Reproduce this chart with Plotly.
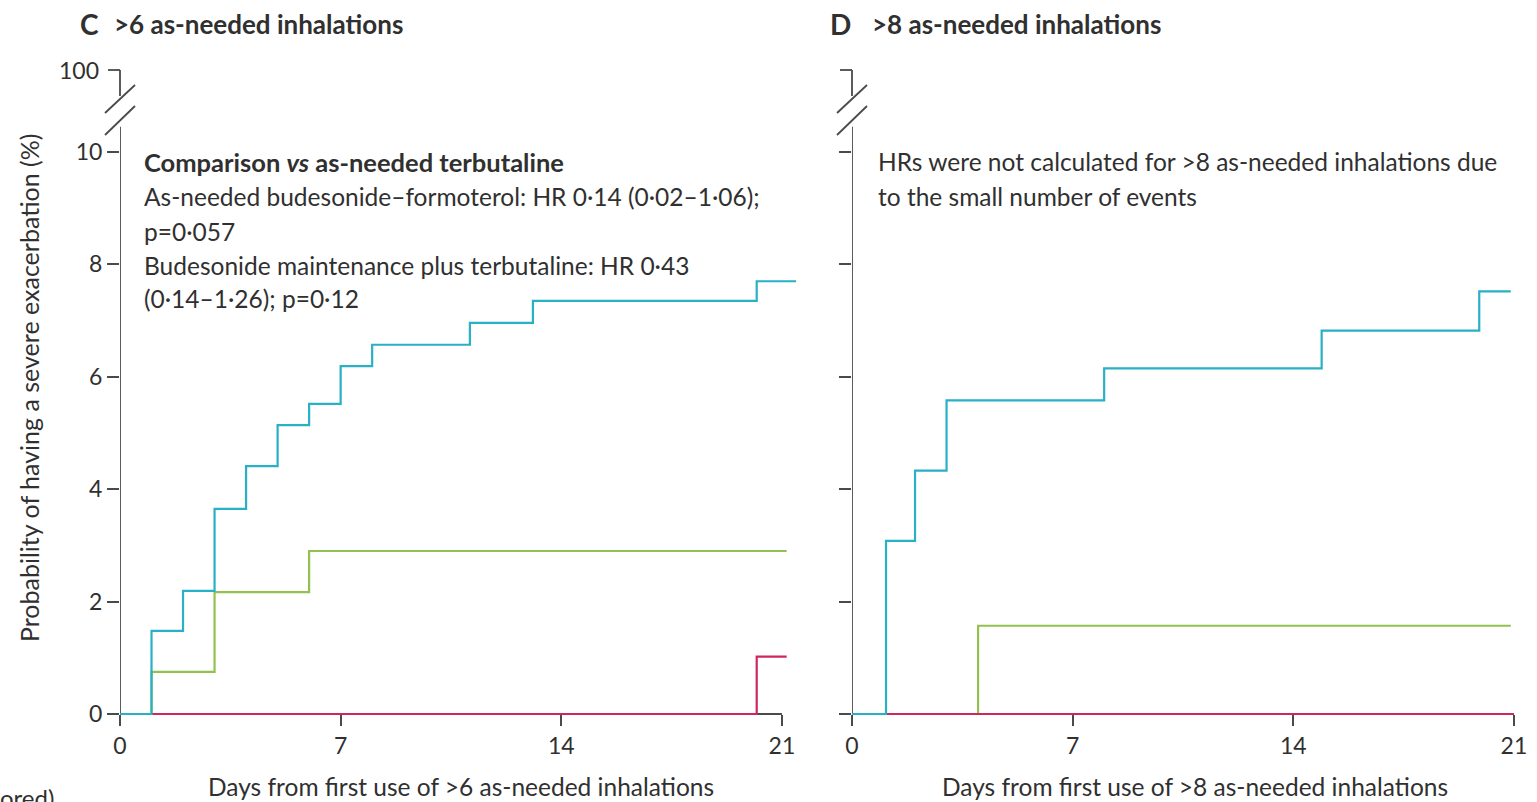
import plotly.graph_objects as go

# ---- data: Kaplan-Meier style cumulative probability (%) of severe exacerbation ----
days_c_budform = [0, 1, 2, 3, 4, 5, 6, 7, 8, 11.1, 13.1, 20.2, 21.45]
prob_c_budform = [0, 1.48, 2.19, 3.65, 4.41, 5.14, 5.52, 6.19, 6.57, 6.96, 7.35, 7.70, 7.70]
days_c_budmaint = [0, 1, 3, 6, 21.15]
prob_c_budmaint = [0, 0.75, 2.17, 2.90, 2.90]
days_c_terb = [0, 20.2, 21.15]
prob_c_terb = [0, 1.02, 1.02]

days_d_budform = [0, 1.08, 2, 3, 8, 14.9, 19.9, 20.9]
prob_d_budform = [0, 3.08, 4.33, 5.58, 6.15, 6.82, 7.52, 7.52]
days_d_budmaint = [0, 4, 20.9]
prob_d_budmaint = [0, 1.57, 1.57]
days_d_terb = [0, 21]
prob_d_terb = [0, 0]

x_ticks = [0, 7, 14, 21]
y_ticks = [0, 2, 4, 6, 8, 10]

W, H = 1537, 802
BLUE = "#28b0c6"
GREEN = "#93c150"
RED = "#d0265c"
AXIS = "#4a4a4a"
TXT = "#303030"
FONT = "Lato"

PX_PER_DAY = 31.52
PX_PER_UNIT = 56.2
Y0_PX = 714          # pixel row of probability 0
X_RANGE = [0, 21.6]
Y_RANGE = [-0.2, 11]  # a little room below 0 so the zero-level curves are not clipped


def px(x):
    return x / W


def py(y):
    return 1 - y / H


def xdomain(x0_px):
    return [px(x0_px), min(1.0, px(x0_px + X_RANGE[1] * PX_PER_DAY))]


ydom = [py(Y0_PX - Y_RANGE[0] * PX_PER_UNIT), py(Y0_PX - Y_RANGE[1] * PX_PER_UNIT)]

fig = go.Figure()

panels = [
    ("x", "y", days_c_terb, prob_c_terb, days_c_budmaint, prob_c_budmaint, days_c_budform, prob_c_budform),
    ("x2", "y2", days_d_terb, prob_d_terb, days_d_budmaint, prob_d_budmaint, days_d_budform, prob_d_budform),
]
for xa, ya, dt, pt, dm, pm, dfm, pfm in panels:
    # drawing order: maintenance, terbutaline, then budesonide-formoterol on top
    for d, p, c in [(dm, pm, GREEN), (dt, pt, RED), (dfm, pfm, BLUE)]:
        fig.add_trace(go.Scatter(x=d, y=p, mode="lines", line=dict(color=c, width=2.2, shape="hv"),
                                 xaxis=xa, yaxis=ya, showlegend=False, hoverinfo="skip"))

axis_common = dict(showgrid=False, zeroline=False, showline=False, ticks="outside",
                   tickcolor=AXIS, tickwidth=1.6, tickfont=dict(family=FONT, size=23, color=TXT))

left_x0, right_x0 = 120, 852
fig.update_layout(
    width=W, height=H, margin=dict(l=0, r=0, t=0, b=0, autoexpand=False),
    paper_bgcolor="white", plot_bgcolor="white",
    xaxis=dict(domain=xdomain(left_x0), range=X_RANGE, tickvals=x_ticks, ticklen=11,
               anchor="free", position=py(Y0_PX), **axis_common),
    yaxis=dict(domain=ydom, range=Y_RANGE, tickvals=y_ticks, ticklen=12, anchor="x", **axis_common),
    xaxis2=dict(domain=xdomain(right_x0), range=X_RANGE, tickvals=x_ticks, ticklen=11,
                anchor="free", position=py(Y0_PX), **axis_common),
    yaxis2=dict(domain=ydom, range=Y_RANGE, tickvals=y_ticks, ticklen=12, showticklabels=False,
                anchor="x2", **axis_common),
)

shapes = []
line_style = dict(color=AXIS, width=1.8)
for x0 in (left_x0, right_x0):
    xr = "x" if x0 == left_x0 else "x2"
    yr = "y" if x0 == left_x0 else "y2"
    # x axis line (0..21) and y axis line (0..just above 10), beneath the curves
    shapes.append(dict(type="line", xref=xr, yref=yr, x0=0, x1=21, y0=0, y1=0, line=line_style, layer="below"))
    shapes.append(dict(type="line", xref=xr, yref=yr, x0=0, x1=0, y0=-0.15, y1=10.45, line=line_style, layer="below"))
    # axis break: upper stub with the 100 tick and two slashes
    shapes.append(dict(type="line", xref="paper", yref="paper", x0=px(x0), x1=px(x0), y0=py(70), y1=py(96), line=line_style))
    shapes.append(dict(type="line", xref="paper", yref="paper", x0=px(x0 - 12), x1=px(x0), y0=py(70), y1=py(70), line=line_style))
    shapes.append(dict(type="line", xref="paper", yref="paper", x0=px(x0 - 15), x1=px(x0 + 15), y0=py(113), y1=py(85), line=line_style))
    shapes.append(dict(type="line", xref="paper", yref="paper", x0=px(x0 - 15), x1=px(x0 + 15), y0=py(135), y1=py(106), line=line_style))
fig.update_layout(shapes=shapes)

ann = []


def text(x, y, s, size=24.5, anchor="left", bold=False, angle=0, yanchor="middle"):
    ann.append(dict(x=px(x), y=py(y), xref="paper", yref="paper", text=f"<b>{s}</b>" if bold else s,
                    showarrow=False, xanchor=anchor, yanchor=yanchor, textangle=angle,
                    font=dict(family=FONT, size=size, color=TXT)))


# panel headings
text(78, 24, "C", size=28, bold=True)
text(112, 24, "&gt;6 as-needed inhalations", size=26, bold=True)
text(828, 24, "D", size=28, bold=True)
text(870, 24, "&gt;8 as-needed inhalations", size=26, bold=True)

# 100 label on the broken axis
text(101, 70, "100", size=23, anchor="right")

# axis titles
text(29, 388, "Probability of having a severe exacerbation (%)", size=25, angle=-90, anchor="center")
text(461, 786, "Days from first use of &gt;6 as-needed inhalations", anchor="center")
text(1195, 786, "Days from first use of &gt;8 as-needed inhalations", anchor="center")

# panel C statistics
text(142, 162, "Comparison <i>vs</i> as-needed terbutaline", size=25.5, bold=True)
text(142, 197, "As-needed budesonide–formoterol: HR 0·14 (0·02–1·06);")
text(142, 231, "p=0·057")
text(142, 265, "Budesonide maintenance plus terbutaline: HR 0·43")
text(142, 298, "(0·14–1·26); p=0·12")

# panel D note
text(876, 162, "HRs were not calculated for &gt;8 as-needed inhalations due")
text(876, 197, "to the small number of events")

# continuation from the caption below
text(-2, 797, "ored)", size=24, anchor="left")

fig.update_layout(annotations=ann)
fig.write_html("out.html")
